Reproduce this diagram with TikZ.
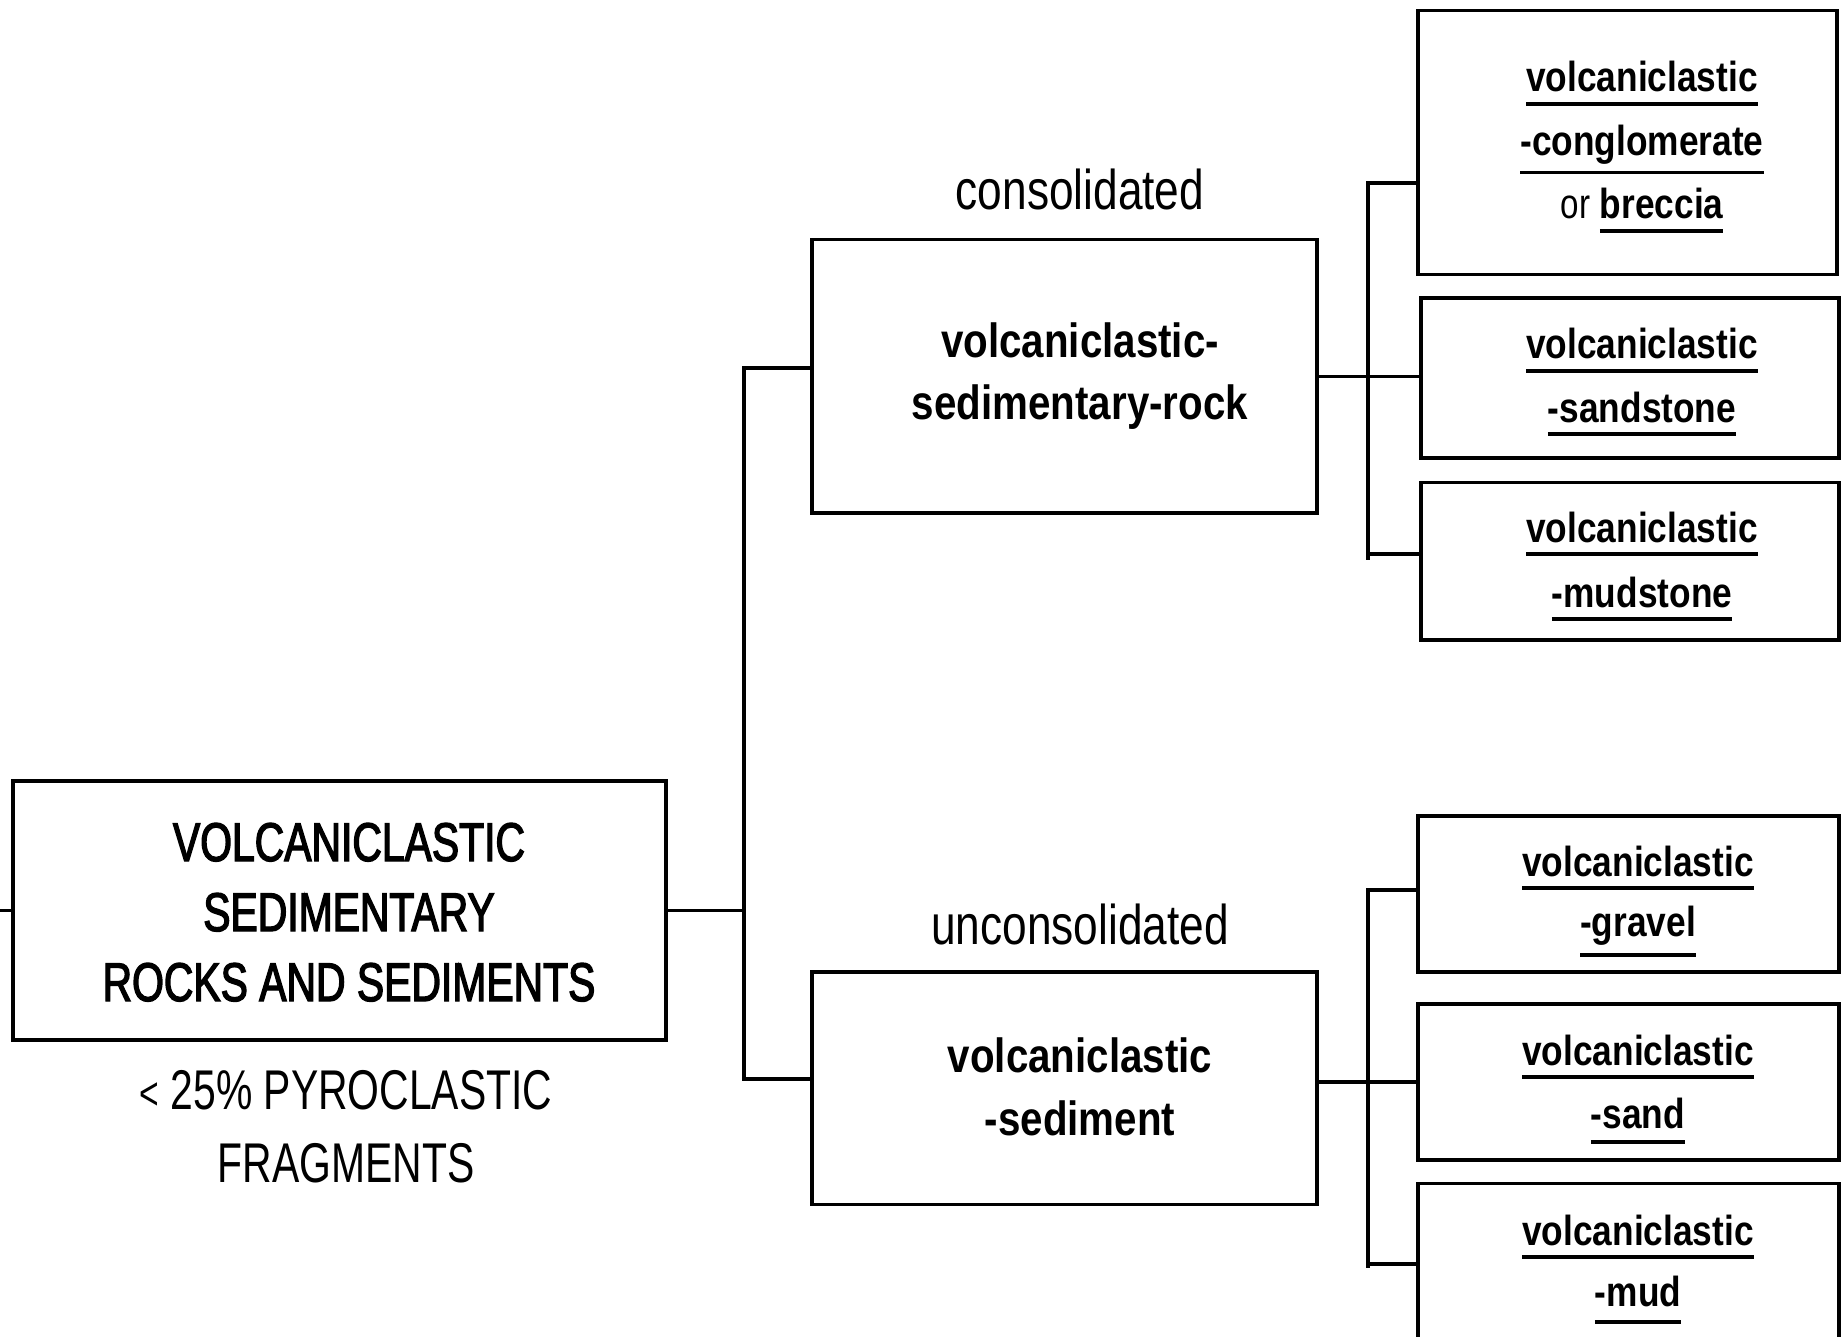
\documentclass[tikz,border=0pt]{standalone}
\usepackage{fontspec}
\setmainfont{Liberation Sans}
% condensed cuts of Liberation Sans
\newfontfamily\titlecond[FakeStretch=0.75,FakeBold=2.4]{Liberation Sans}
\newfontfamily\capcond[FakeStretch=0.73]{Liberation Sans}
\newfontfamily\lowcond[FakeStretch=0.79]{Liberation Sans}
\newfontfamily\boldcond[FakeStretch=0.84]{Liberation Sans Bold}

% underline drawn #1 pt below the baseline, without affecting line spacing
\newcommand\ulx[2][12]{\leavevmode\setbox0=\hbox{#2}%
  \rlap{\smash{\vrule width\wd0 height -\dimexpr#1pt-1.75pt\relax depth \dimexpr#1pt+1.75pt\relax}}\box0}

\tikzset{
  box/.style={draw, rectangle, line width=3.2pt, inner sep=0pt},
  wire/.style={line width=3.2pt, line join=miter},
  txt/.style={anchor=base, inner sep=0pt, text=black},
}

\begin{document}
\begin{tikzpicture}[x=1pt,y=-1pt]
\useasboundingbox (0,0) rectangle (1841,1337);
\clip (0,0) rectangle (1841,1337);

% ---------- boxes ----------
\node[box, minimum width=653pt, minimum height=259pt]   (main) at (339.5,910.5) {};
\node[box, minimum width=505pt, minimum height=273.5pt] (rock) at (1064.5,376.25) {};
\node[box, minimum width=505pt, minimum height=232.5pt] (sed)  at (1064.5,1088.25) {};
\node[box, minimum width=419pt, minimum height=264pt]   (r1) at (1627.5,142.65) {};
\node[box, minimum width=418pt, minimum height=160pt]   (r2) at (1630,378) {};
\node[box, minimum width=418pt, minimum height=157.4pt] (r3) at (1630,561.3) {};
\node[box, minimum width=421pt, minimum height=156pt]   (r4) at (1628.5,894) {};
\node[box, minimum width=421pt, minimum height=156pt]   (r5) at (1628.5,1082) {};
\node[box, minimum width=421pt, minimum height=180pt]   (r6) at (1628.5,1273.5) {};

% ---------- texts ----------
\node[txt, font=\titlecond\fontsize{54.5}{70}\selectfont] (mainT) at (349,861)
  {\begin{tabular}[t]{@{}c@{}}VOLCANICLASTIC\\SEDIMENTARY\\ROCKS AND SEDIMENTS\end{tabular}};
\node[txt, font=\capcond\fontsize{56}{73}\selectfont] (frag) at (346,1109)
  {\begin{tabular}[t]{@{}c@{}}{\fontsize{46}{73}\selectfont<} 25\% PYROCLASTIC\\FRAGMENTS\end{tabular}};

\node[txt, font=\lowcond\fontsize{56}{68}\selectfont] (cons)   at (1080,210) {consolidated};
\node[txt, font=\lowcond\fontsize{56}{68}\selectfont] (uncons) at (1080,944) {unconsolidated};

\node[txt, font=\boldcond\fontsize{48}{62}\selectfont] (rockT) at (1080,358)
  {\begin{tabular}[t]{@{}c@{}}volcaniclastic-\\sedimentary-rock\end{tabular}};
\node[txt, font=\boldcond\fontsize{48}{63}\selectfont] (sedT) at (1080,1072)
  {\begin{tabular}[t]{@{}c@{}}volcaniclastic\\-sediment\end{tabular}};

\node[txt, font=\boldcond\fontsize{42}{63.5}\selectfont] (r1T) at (1642,92)
  {\begin{tabular}[t]{@{}c@{}}\ulx{volcaniclastic}\\\ulx[17]{-conglomerate}\\{\lowcond or} \ulx{breccia}\end{tabular}};
\node[txt, font=\boldcond\fontsize{42}{63}\selectfont] (r2T) at (1642,359)
  {\begin{tabular}[t]{@{}c@{}}\ulx{volcaniclastic}\\\ulx{-sandstone}\end{tabular}};
\node[txt, font=\boldcond\fontsize{42}{65}\selectfont] (r3T) at (1642,542)
  {\begin{tabular}[t]{@{}c@{}}\ulx{volcaniclastic}\\\ulx{-mudstone}\end{tabular}};
\node[txt, font=\boldcond\fontsize{42}{60}\selectfont] (r4T) at (1638,876)
  {\begin{tabular}[t]{@{}c@{}}\ulx{volcaniclastic}\\\ulx[19]{-gravel}\end{tabular}};
\node[txt, font=\boldcond\fontsize{42}{63}\selectfont] (r5T) at (1638,1065)
  {\begin{tabular}[t]{@{}c@{}}\ulx{volcaniclastic}\\\ulx[14]{-sand}\end{tabular}};
\node[txt, font=\boldcond\fontsize{42}{61}\selectfont] (r6T) at (1638,1245)
  {\begin{tabular}[t]{@{}c@{}}\ulx{volcaniclastic}\\\ulx[16]{-mud}\end{tabular}};

% ---------- connectors ----------
\coordinate (stub) at (0,910.5);
\coordinate (tTop) at (744,368);
\coordinate (tBot) at (744,1079);
\coordinate (ubTop) at (1368,183);
\coordinate (ub3)   at (1368,554);
\coordinate (ubBot) at (1368,560);
\coordinate (lbTop) at (1368,890);
\coordinate (lb6)   at (1368,1264);
\coordinate (lbBot) at (1368,1268);

\draw[wire] (stub) -- (main.west);
\draw[wire] (main.east) -- (main.east -| tTop);
\draw[wire] (rock.west |- tTop) -- (tTop) -- (tBot) -- (tBot -| sed.west);

\draw[wire] (rock.east) -- (rock.east -| r2.west);
\draw[wire] (r1.west |- ubTop) -- (ubTop) -- (ubBot);
\draw[wire] (ub3) -- (ub3 -| r3.west);

\draw[wire] (r5.west) -- (r5.west -| sed.east);
\draw[wire] (r4.west |- lbTop) -- (lbTop) -- (lbBot);
\draw[wire] (lb6) -- (lb6 -| r6.west);
\end{tikzpicture}
\end{document}
